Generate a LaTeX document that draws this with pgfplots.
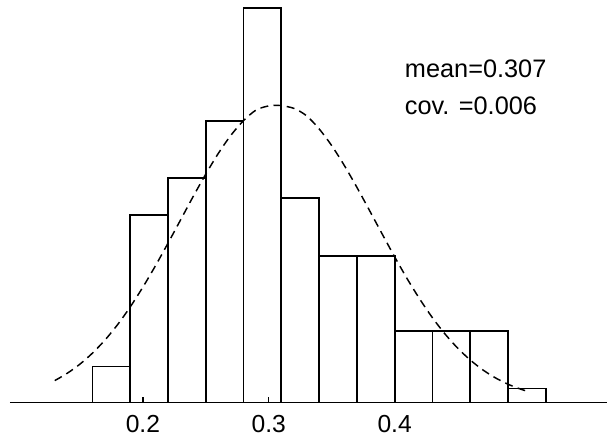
\documentclass[border=0pt]{standalone}
\usepackage{pgfplots}
\pgfplotsset{compat=1.18}
\usepackage{fontspec}
\setmainfont{Liberation Sans}
\begin{document}
\begin{tikzpicture}
\path (-7.5pt,-30pt) rectangle (448.5pt,302.25pt);
\begin{axis}[
  scale only axis,
  width=448.5pt, height=302.25pt,
  xmin=0.0944, xmax=0.5690,
  ymin=0, ymax=403,
  axis x line*=bottom,
  axis y line=none,
  x axis line style={line width=1pt},
  xtick={0.2,0.3,0.4},
  xticklabels={0.2,0.3,0.4},
  tick align=inside,
  major tick length=4pt,
  tick style={line width=0.9pt, black},
  xticklabel style={font=\fontsize{18.5}{21}\selectfont, yshift=-6pt},
  /pgf/number format/assume math mode=true,
  clip=false,
]
\addplot[ybar interval, draw=black, fill=none, line width=1.3pt] coordinates {
 (0.16,36) (0.19,188) (0.22,225) (0.25,282) (0.28,395) (0.31,205)
 (0.34,147) (0.37,147) (0.40,72) (0.43,72) (0.46,72) (0.49,14) (0.52,14)
};
\addplot[black, line width=1.1pt, dash pattern=on 6pt off 4pt, smooth] coordinates {
 (0.13,22.0) (0.14,29.4) (0.15,38.5) (0.16,49.6) (0.17,62.8) (0.18,78.2)
 (0.19,95.9) (0.20,115.6) (0.21,137.0) (0.22,159.7) (0.23,183.0) (0.24,206.4)
 (0.25,228.8) (0.26,249.6) (0.27,267.7) (0.28,282.3) (0.29,292.9) (0.30,297.0)
 (0.307,297.5) (0.31,297.3) (0.32,294.5) (0.33,287.1) (0.34,274.0) (0.35,257.2)
 (0.36,237.4) (0.37,215.5) (0.38,192.4) (0.39,169.0) (0.40,145.9) (0.41,123.9)
 (0.42,103.5) (0.43,85.0) (0.44,68.7) (0.45,54.6) (0.46,42.7) (0.47,32.8)
 (0.48,24.8) (0.49,18.4) (0.50,13.5) (0.505,11.5)
};
\node[anchor=base west, inner sep=0pt, font=\fontsize{19}{22}\selectfont] at (axis cs:0.408,325) {mean=0.307};
\node[anchor=base west, inner sep=0pt, font=\fontsize{19}{22}\selectfont] at (axis cs:0.408,288) {cov. =0.006};
\end{axis}
\end{tikzpicture}
\end{document}
